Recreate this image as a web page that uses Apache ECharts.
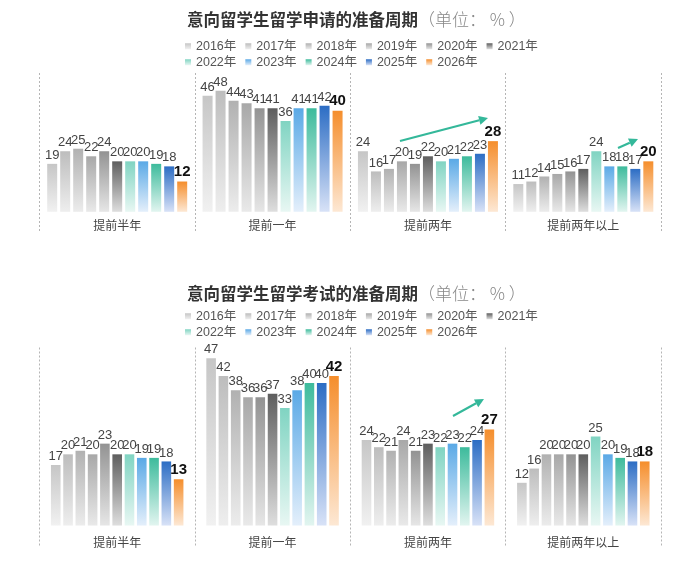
<!DOCTYPE html>
<html>
<head>
<meta charset="utf-8">
<script src="https://cdn.jsdelivr.net/npm/echarts@6/dist/echarts.min.js"></script>
<style>
html,body{margin:0;padding:0;background:#fff;}
#main{width:685px;height:566px;}
</style>
</head>
<body>
<div id="main"></div>
<script>
// ---- data ----
var categories = ['提前半年', '提前一年', '提前两年', '提前两年以上'];
var years = ['2016年','2017年','2018年','2019年','2020年','2021年','2022年','2023年','2024年','2025年','2026年'];

// 申请 (application) – values per year, one array per category
var applyHalfYear   = [19, 24, 25, 22, 24, 20, 20, 20, 19, 18, 12];
var applyOneYear    = [46, 48, 44, 43, 41, 41, 36, 41, 41, 42, 40];
var applyTwoYears   = [24, 16, 17, 20, 19, 22, 20, 21, 22, 23, 28];
var applyTwoPlus    = [11, 12, 14, 15, 16, 17, 24, 18, 18, 17, 20];

// 考试 (exam)
var examHalfYear    = [17, 20, 21, 20, 23, 20, 20, 19, 19, 18, 13];
var examOneYear     = [47, 42, 38, 36, 36, 37, 33, 38, 40, 40, 42];
var examTwoYears    = [24, 22, 21, 24, 21, 23, 22, 23, 22, 24, 27];
var examTwoPlus     = [12, 16, 20, 20, 20, 20, 25, 20, 19, 18, 18];

var title1 = '意向留学生留学申请的准备周期';
var title2 = '意向留学生留学考试的准备周期';
var unitText = '（单位： % ）';

// ---- styles ----
var topColors = ['#c6c6c6','#bdbdbd','#b1b1b1','#a8a8a8','#939393','#5e5e5e','#80d4c2','#5aa9e6','#3dbb9c','#2c6dc4','#f58e2c'];
var botColors = ['#f1f1f1','#eeeeee','#ececec','#e9e9e9','#e6e6e6','#dedede','#e8f7f3','#e4effb','#e2f5f0','#d8e2f7','#fde8d4'];

function grad(i){
  return new echarts.graphic.LinearGradient(0,0,0,1,[
    {offset:0,color:topColors[i]},{offset:1,color:botColors[i]}]);
}

var main = document.getElementById('main');
var chart = echarts.init(main, null, {renderer:'canvas'});
var FONT = '"Noto Sans CJK SC","Noto Sans",sans-serif';
var NUMFONT = '"Liberation Sans","Noto Sans CJK SC",sans-serif';

function buildSeries(gridIdx, groups, bw, gap){
  var out = [];
  for (var i = 0; i < years.length; i++){
    var last = (i === years.length - 1);
    out.push({
      name: years[i],
      type: 'bar',
      xAxisIndex: gridIdx,
      yAxisIndex: gridIdx,
      barWidth: bw,
      barGap: gap,
      data: groups.map(function(g){ return g[i]; }),
      itemStyle: { color: grad(i) },
      label: {
        show: true,
        position: 'top',
        distance: 2,
        fontFamily: NUMFONT,
        fontSize: last ? 15 : 13,
        fontWeight: last ? 'bold' : 'normal',
        color: last ? '#111' : '#444'
      },
      emphasis: { disabled: true }
    });
  }
  return out;
}

var series = buildSeries(0, [applyHalfYear, applyOneYear, applyTwoYears, applyTwoPlus], 10, '30%')
  .concat(buildSeries(1, [examHalfYear, examOneYear, examTwoYears, examTwoPlus], 9.6, '28%'));

function legend(top, names){
  return {
    top: top, left: 180,
    data: names,
    itemWidth: 6, itemHeight: 6, itemGap: 9,
    icon: 'rect',
    selectedMode: false,
    textStyle: { fontFamily: NUMFONT, fontSize: 12.5, color: '#555' }
  };
}

function xAxis(gi, margin){
  return {
    type: 'category', gridIndex: gi, data: categories,
    axisLine: { show: false }, axisTick: { show: false },
    splitLine: { show: true, lineStyle: { color: '#b5b5b5', type: [2,2], width: 1 } },
    axisLabel: { margin: margin, fontFamily: FONT, fontSize: 12, color: '#444' }
  };
}

function arrow(x1,y1,x2,y2){
  var ang = Math.atan2(y2-y1, x2-x1);
  var L = 9, W = 4.5;
  var bx = x2 - L*Math.cos(ang), by = y2 - L*Math.sin(ang);
  var px = -Math.sin(ang)*W, py = Math.cos(ang)*W;
  return [
    { type:'line', shape:{x1:x1,y1:y1,x2:bx,y2:by}, style:{stroke:'#34b89a', lineWidth:2.2}, silent:true },
    { type:'polygon', shape:{points:[[x2,y2],[bx+px,by+py],[bx-px,by-py]]}, style:{fill:'#34b89a'}, silent:true }
  ];
}

function titleRich(){
  return { rich: {
    b: { fontFamily: FONT, fontSize: 16.5, fontWeight: 'bold', color: '#333' },
    n: { fontFamily: FONT, fontSize: 17, fontWeight: 300, color: '#888' } } };
}

var option = {
  backgroundColor: '#fff',
  animation: false,
  title: [
    { left: 182, top: 6, text: '{b|' + title1 + '}{n|' + unitText + '}', textStyle: titleRich() },
    { left: 182, top: 280, text: '{b|' + title2 + '}{n|' + unitText + '}', textStyle: titleRich() }
  ],
  legend: [
    legend(35, years.slice(0,6)),
    legend(51, years.slice(6)),
    legend(305, years.slice(0,6)),
    legend(321, years.slice(6))
  ],
  grid: [
    { left: 39.5, right: 24, top: 73, height: 159 },
    { left: 39.5, right: 24, top: 347.5, height: 199.4 }
  ],
  xAxis: [ xAxis(0, -13), xAxis(1, -10) ],
  yAxis: [
    { type: 'value', gridIndex: 0, min: -8, max: 55, show: false, splitLine: { show: false } },
    { type: 'value', gridIndex: 1, min: -6, max: 50, show: false, splitLine: { show: false } }
  ],
  graphic: [].concat(
    arrow(400, 141, 488, 118),
    arrow(618, 148, 638, 139),
    arrow(453, 416, 484, 399)
  ),
  series: series
};
chart.setOption(option);
</script>
</body>
</html>
